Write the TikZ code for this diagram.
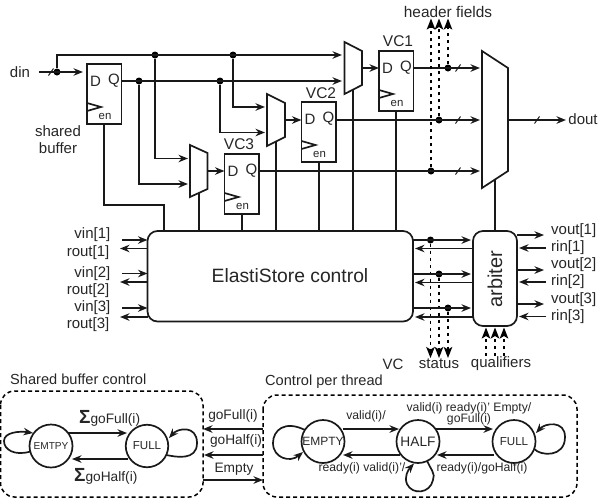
\documentclass[tikz,border=0pt]{standalone}
\usepackage{fontspec}
\setmainfont{Liberation Sans}
\usetikzlibrary{arrows.meta,calc}
\newcommand{\fs}[1]{\fontsize{#1}{#1}\selectfont}
\tikzset{
 lw/.style={line width=1.7pt,black!90},
 conn/.style={lw},
 arr/.style={lw,-{Stealth[length=9.5pt,width=7.5pt]}},
 dasharr/.style={line width=1.5pt,dash pattern=on 3.5pt off 3.5pt,-{Stealth[length=11pt,width=8.5pt,inset=2.5pt]}},
 reg/.style={draw,lw,fill=white,minimum width=34.5pt,minimum height=60pt,inner sep=0,outer sep=0,anchor=north west},
 ctl/.style={draw,lw,fill=white,rounded corners=10pt,inner sep=0,outer sep=0,anchor=north west},
 dot/.style={circle,fill=black,inner sep=0,minimum size=7pt},
 mux/.style={draw,lw,fill=white},
 lab/.style={font=\fs{15},inner sep=0,text=black!85},
 small/.style={font=\fs{13.7},inner sep=0,text=black!85},
 tiny/.style={font=\fs{12.2},inner sep=0,text=black!85},
 state/.style={circle,draw,lw,inner sep=0,outer sep=0,text=black!85},
 dbox/.style={line width=1.5pt,dash pattern=on 4pt off 3pt,rounded corners=14pt},
}
\newcommand{\slashmark}[1]{\draw[lw,line width=1pt] ($(#1)+(-2.5,3.5)$) -- ($(#1)+(2.5,-3.5)$);}
\newcommand{\regparts}[1]{%
 \node[lab] at ($(#1.north west)+(8.5,17.5)$) {D};
 \node[lab] at ($(#1.north west)+(27,16.5)$) {Q};
 \node[font=\fs{11.4},inner sep=0,text=black!85] at ($(#1.north west)+(18,52)$) {en};
 \draw[lw] ($(#1.north west)+(0,39)$) -- ($(#1.north west)+(14,43)$) -- ($(#1.north west)+(0,47)$);
}
\begin{document}
\begin{tikzpicture}[x=1pt,y=-1pt]
\useasboundingbox (0,0) rectangle (599,499);
% registers
\node[reg] (sb) at (87,64) {}; \regparts{sb}
\node[reg] (vc3) at (224.5,154) {}; \regparts{vc3}
\node[reg] (vc2) at (301.5,102) {}; \regparts{vc2}
\node[reg] (vc1) at (379,51) {}; \regparts{vc1}
\node[lab,font=\fs{15.5}] (l3) at (239,144) {VC3};
\node[lab,font=\fs{15.5}] (l2) at (321,93) {VC2};
\node[lab,font=\fs{15.5}] (l1) at (398,41) {VC1};
\node[lab,align=center] (lsb) at (58,140) {shared\\[2pt]buffer};
% control blocks
\node[ctl,minimum width=265.5pt,minimum height=90.5pt] (es) at (147.5,231) {};
\node[font=\fs{19.3},inner sep=0,text=black!85] (estxt) at (290,276) {ElastiStore control};
\node[ctl,minimum width=44pt,minimum height=95pt] (arb) at (473,231) {};
\node[font=\fs{20},inner sep=0,rotate=90,text=black!85] (arbtxt) at (495,279) {arbiter};
% muxes
\coordinate (m3a) at (190,145); \coordinate (m3b) at (207.5,153); \coordinate (m3c) at (207.5,189); \coordinate (m3d) at (190,197);
\coordinate (m2a) at (267,94); \coordinate (m2b) at (285,103); \coordinate (m2c) at (285,137); \coordinate (m2d) at (267,146);
\coordinate (m1a) at (344.5,42); \coordinate (m1b) at (362,51); \coordinate (m1c) at (362,85); \coordinate (m1d) at (344.5,94);
\coordinate (bma) at (482,51); \coordinate (bmb) at (508,68); \coordinate (bmc) at (508,171); \coordinate (bmd) at (482,188);
\draw[mux] (m3a)--(m3b)--(m3c)--(m3d)--cycle;
\draw[mux] (m2a)--(m2b)--(m2c)--(m2d)--cycle;
\draw[mux] (m1a)--(m1b)--(m1c)--(m1d)--cycle;
\draw[mux] (bma)--(bmb)--(bmc)--(bmd)--cycle;
% input buses
\node[lab] (din) at (20,72) {din};
\coordinate (dinst) at (39,72);
\node[dot] (j0) at (57,72) {};
\coordinate (sbD) at (83,72);
\draw[arr] (dinst) -- (sbD);
\coordinate (s0) at (51,72); \slashmark{s0}
\node[dot] (j1) at (155,55) {};
\node[dot] (j2) at (233,55) {};
\node[dot] (j3) at (139,81) {};
\node[dot] (j4) at (220,81) {};
\coordinate (m1in1) at (342,55); \coordinate (m1in2) at (342,81);
\coordinate (m2in1) at (265,107); \coordinate (m2in2) at (265,132.5);
\coordinate (m3in1) at (188,158.5); \coordinate (m3in2) at (188,184);
\draw[arr] (j0) |- (m1in1);
\draw[arr] (sb.east |- j3) -- (m1in2);
\draw[arr] (j2) |- (m2in1);
\draw[arr] (j4) |- (m2in2);
\draw[arr] (j1) |- (m3in1);
\draw[arr] (j3) |- (m3in2);
% mux to VC
\coordinate (m3o) at (207.5,171); \coordinate (m2o) at (285,120); \coordinate (m1o) at (362,68);
\draw[arr] (m3o) -- (m3o -| vc3.west);
\draw[arr] (m2o) -- (m2o -| vc2.west);
\draw[arr] (m1o) -- (m1o -| vc1.west);
% enables and selects
\coordinate (sbb) at (104,124); \coordinate (sbk) at (164,205);
\draw[conn] (sbb) |- (sbk) -- (sbk |- es.north);
\coordinate (m3s) at (199,193); \draw[conn] (m3s) -- (m3s |- es.north);
\coordinate (m2s) at (276,142); \draw[conn] (m2s) -- (m2s |- es.north);
\coordinate (m1s) at (353,90); \draw[conn] (m1s) -- (m1s |- es.north);
\draw[conn] (vc3.south) -- (vc3.south |- es.north);
\draw[conn] (vc2.south) -- (vc2.south |- es.north);
\draw[conn] (vc1.south) -- (vc1.south |- es.north);
\coordinate (bms) at (495,180); \draw[conn] (bms) -- (bms |- arb.north);
% VC outputs
\node[dot] (h1) at (448,68) {}; \node[dot] (h2) at (439,120) {}; \node[dot] (h3) at (431,171) {};
\coordinate (bi1) at (480,68); \coordinate (bi2) at (480,120); \coordinate (bi3) at (480,171);
\draw[arr] (vc1.east |- bi1) -- (bi1);
\draw[arr] (vc2.east |- bi2) -- (bi2);
\draw[arr] (vc3.east |- bi3) -- (bi3);
\coordinate (s1) at (458,68); \slashmark{s1}
\coordinate (s2) at (458,120); \slashmark{s2}
\coordinate (s3) at (458,171); \slashmark{s3}
\coordinate (bmo) at (508,120); \coordinate (do) at (566,120);
\draw[arr] (bmo) -- (do);
\coordinate (s4) at (537,120); \slashmark{s4}
\node[lab] (dout) at (583,119) {dout};
% header fields
\node[lab,font=\fs{15.4}] (hf) at (448,12) {header fields};
\coordinate (hh1) at (448,18.5); \coordinate (hh2) at (439,18.5); \coordinate (hh3) at (431,18.5);
\draw[dasharr] (h1) -- (hh1);
\draw[dasharr] (h2) -- (hh2);
\draw[dasharr] (h3) -- (hh3);
% left ports
\foreach \i/\a/\b/\ta/\tb in {1/240/248.5/235/253,2/273.5/282/274/291,3/308/317/308/325}{
 \coordinate (vi\i) at (122,\a); \coordinate (ro\i) at (120,\b);
 \draw[arr] (vi\i) -- (vi\i -| es.west);
 \draw[arr] (ro\i -| es.west) -- (ro\i);
 \node[lab,anchor=east] at (110.5,\ta) {vin[\i]};
 \node[lab,anchor=east] at (109.5,\tb) {rout[\i]};
}
% ES to arbiter
\foreach \i/\a/\b/\dx in {1/240/248.5/430.5,2/274/282.5/439,3/308/317/448}{
 \node[dot] (st\i) at (\dx,\a) {};
 \coordinate (to\i) at (471,\a); \coordinate (bk\i) at (415,\b);
 \draw[arr] (es.east |- to\i) -- (to\i);
 \draw[arr] (arb.west |- bk\i) -- (bk\i);
 \coordinate (dn\i) at (\dx,358);
 \draw[dasharr] (st\i) -- (dn\i);
}
% right ports
\foreach \i/\a/\b/\ta/\tb in {1/235/248/231/248,2/270/282/265/282,3/304/316.5/300/317}{
 \coordinate (vo\i) at (544,\a); \coordinate (ri\i) at (546,\b);
 \draw[arr] (arb.east |- vo\i) -- (vo\i);
 \coordinate (rt\i) at (519,\b);
 \draw[arr] (ri\i) -- (rt\i);
 \node[lab,anchor=west] at (551,\ta) {vout[\i]};
 \node[lab,anchor=west] at (551,\tb) {rin[\i]};
}
% qualifiers
\foreach \i/\x in {1/486,2/495,3/504}{
 \coordinate (qf\i) at (\x,356); \coordinate (qt\i) at (\x,327.5);
 \draw[dasharr] (qf\i) -- (qt\i);
}
\node[lab] (lvc) at (393,364) {VC};
\node[lab] (lst) at (439,364) {status};
\node[lab] (lqu) at (501,364) {qualifiers};
% lower section
\node[lab,anchor=west,font=\fs{14.6}] (tsb) at (10,379) {Shared buffer control};
\node[lab,anchor=west,font=\fs{14.6}] (tct) at (265,382) {Control per thread};
\draw[dbox] (0.5,391) rectangle (203,497);
\draw[dbox] (263,395) rectangle (577,497);
% shared buffer fsm
\node[state,minimum size=43pt,font=\fs{10.1}] (se) at (51,446) {EMTPY};
\node[state,minimum size=42.5pt,font=\fs{11.6}] (sf) at (147,446) {FULL};
\draw[arr] (68,433) -- (127,433);
\draw[arr] (128,459) -- (72,459);
\draw[arr] (se.195) .. controls (15,456) and (4,450) .. (4,441) .. controls (4,432) and (20,431) .. (33,433);
\draw[arr] (sf.-25) .. controls (176,457) and (197,461) .. (197,443) .. controls (197,425) and (178,428) .. (169,438);
\node[small,anchor=west] (sg1) at (79,418) {\textbf{\fs{19}Σ}\fs{13.7}goFull(i)};
\node[small,anchor=west] (sg2) at (74,476) {\textbf{\fs{19}Σ}\fs{13.7}goHalf(i)};
% interface
\coordinate (ia) at (263,429); \coordinate (ib) at (263,455); \coordinate (ic) at (203,480);
\draw[arr] (ia) -- (203,429);
\draw[arr] (ib) -- (204,455);
\draw[arr] (ic) -- (263,480);
\node[small] (ga) at (233,416) {goFull(i)};
\node[small] (gb) at (236,441) {goHalf(i)};
\node[small] (gc) at (234,469) {Empty};
% thread fsm
\node[state,minimum size=43pt,font=\fs{12}] (te) at (323,441.5) {EMPTY};
\node[state,minimum size=43pt,font=\fs{13.7}] (th) at (418,441.5) {HALF};
\node[state,minimum size=43pt,font=\fs{11.6}] (tf) at (514,441.5) {FULL};
\draw[arr] (343,429) -- (399,429);
\draw[arr] (436,429) -- (493,429);
\draw[arr] (494,455) -- (437,455);
\draw[arr] (400,455) -- (343,455);
\draw[arr] (305,430) .. controls (285,420) and (273,430) .. (273,443) .. controls (273,458) and (290,463) .. (303,452);
\draw[arr] (th.-65) .. controls (430,468) and (436,474) .. (433,480) .. controls (430,494) and (412,495) .. (407,484) .. controls (404,477) and (408,470) .. (414,463.5);
\draw[arr] (tf.-20) .. controls (540,456) and (565,458) .. (565,437) .. controls (565,420) and (545,423) .. (536,433);
\node[tiny] (t1) at (366,416) {valid(i)/};
\node[tiny] (t2) at (469,408) {valid(i) ready(i)' Empty/};
\node[tiny] (t3) at (469,419) {goFull(i)};
\node[tiny] (t4) at (362,468) {ready(i) valid(i)'/};
\node[tiny] (t5) at (482,468) {ready(i)/goHalf(i)};
\end{tikzpicture}
\end{document}
